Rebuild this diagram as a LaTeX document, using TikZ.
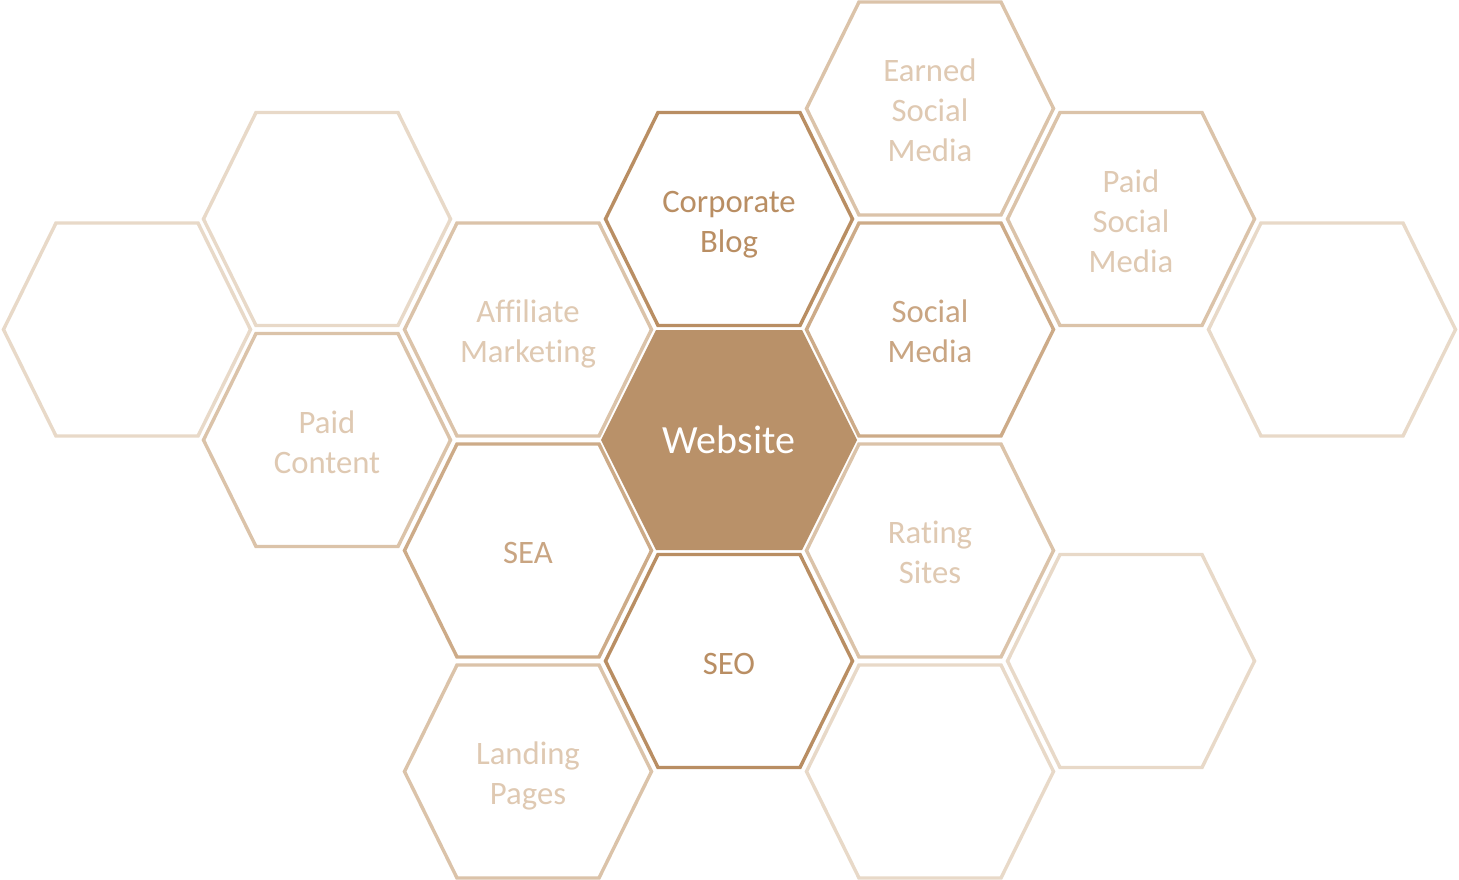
\documentclass[tikz,border=0pt]{standalone}
\usepackage{fontspec}
\setmainfont{Carlito}[RawFeature={-liga;-clig;-rlig;-calt;-dlig}]
\definecolor{c0}{HTML}{B99169}
\definecolor{c1}{HTML}{B98E63}
\definecolor{c2}{HTML}{CDAB88}
\definecolor{c2t}{HTML}{C9A582}
\definecolor{c3}{HTML}{DBC3A9}
\definecolor{c3t}{HTML}{DFC9B2}
\definecolor{c4}{HTML}{E8D9C8}
\newcommand\ls{\rule[-7pt]{0pt}{40pt}}
\newcommand\hexcell[5]{%
  \draw[#1] ({#2-123.5},#3) -- ({#2-71},{#3-106.5}) -- ({#2+71},{#3-106.5}) -- ({#2+123.5},#3) -- ({#2+71},{#3+106.5}) -- ({#2-71},{#3+106.5}) -- cycle;
  \node[#1 text] (#4) at (#2,#3) {#5};}
\tikzset{
  hexline/.style={line width=3.4pt, line join=miter},
  lv1/.style={hexline, draw=c1},
  lv2/.style={hexline, draw=c2},
  lv3/.style={hexline, draw=c3},
  lv4/.style={hexline, draw=c4},
  basetext/.style={inner sep=0pt, align=center, font=\fontsize{32.7}{40}\selectfont},
  lv1 text/.style={basetext, text=c1},
  lv2 text/.style={basetext, text=c2t},
  lv3 text/.style={basetext, text=c3t},
  lv4 text/.style={basetext},
}
\begin{document}
\begin{tikzpicture}[x=1pt,y=-1pt]
\useasboundingbox (0,0) rectangle (1459,880);
\fill[white] (0,0) rectangle (1459,880);
% empty cells
\hexcell{lv4}{127}{329.5}{e1}{}
\hexcell{lv4}{327}{219}{e2}{}
\hexcell{lv4}{930}{771.5}{e3}{}
\hexcell{lv4}{1131}{661}{e4}{}
\hexcell{lv4}{1332}{329.5}{e5}{}
% outer ring
\hexcell{lv3}{327}{440}{paidc}{Paid\ls\\Content\ls}
\hexcell{lv3}{528}{329.5}{aff}{Affiliate\ls\\Marketing\ls}
\hexcell{lv3}{528}{771.5}{land}{Landing\ls\\Pages\ls}
\hexcell{lv3}{930}{108.5}{earned}{Earned\ls\\Social\ls\\Media\ls}
\hexcell{lv3}{930}{550.5}{rating}{Rating\ls\\Sites\ls}
\hexcell{lv3}{1131}{219}{paids}{Paid\ls\\Social\ls\\Media\ls}
% middle ring
\hexcell{lv2}{528}{550.5}{sea}{SEA\ls}
\hexcell{lv2}{930}{329.5}{social}{Social\ls\\Media\ls}
% inner ring
\hexcell{lv1}{729}{219}{blog}{Corporate\ls\\Blog\ls}
\hexcell{lv1}{729}{661}{seo}{SEO\ls}
% center
\fill[c0] (601,440) -- (656,330) -- (802,330) -- (857,440) -- (802,550) -- (656,550) -- cycle;
\node[inner sep=0pt, text=white, font=\fontsize{40}{48}\selectfont] (web) at (729,440) {Website\rule[-10pt]{0pt}{46pt}};
\end{tikzpicture}
\end{document}
